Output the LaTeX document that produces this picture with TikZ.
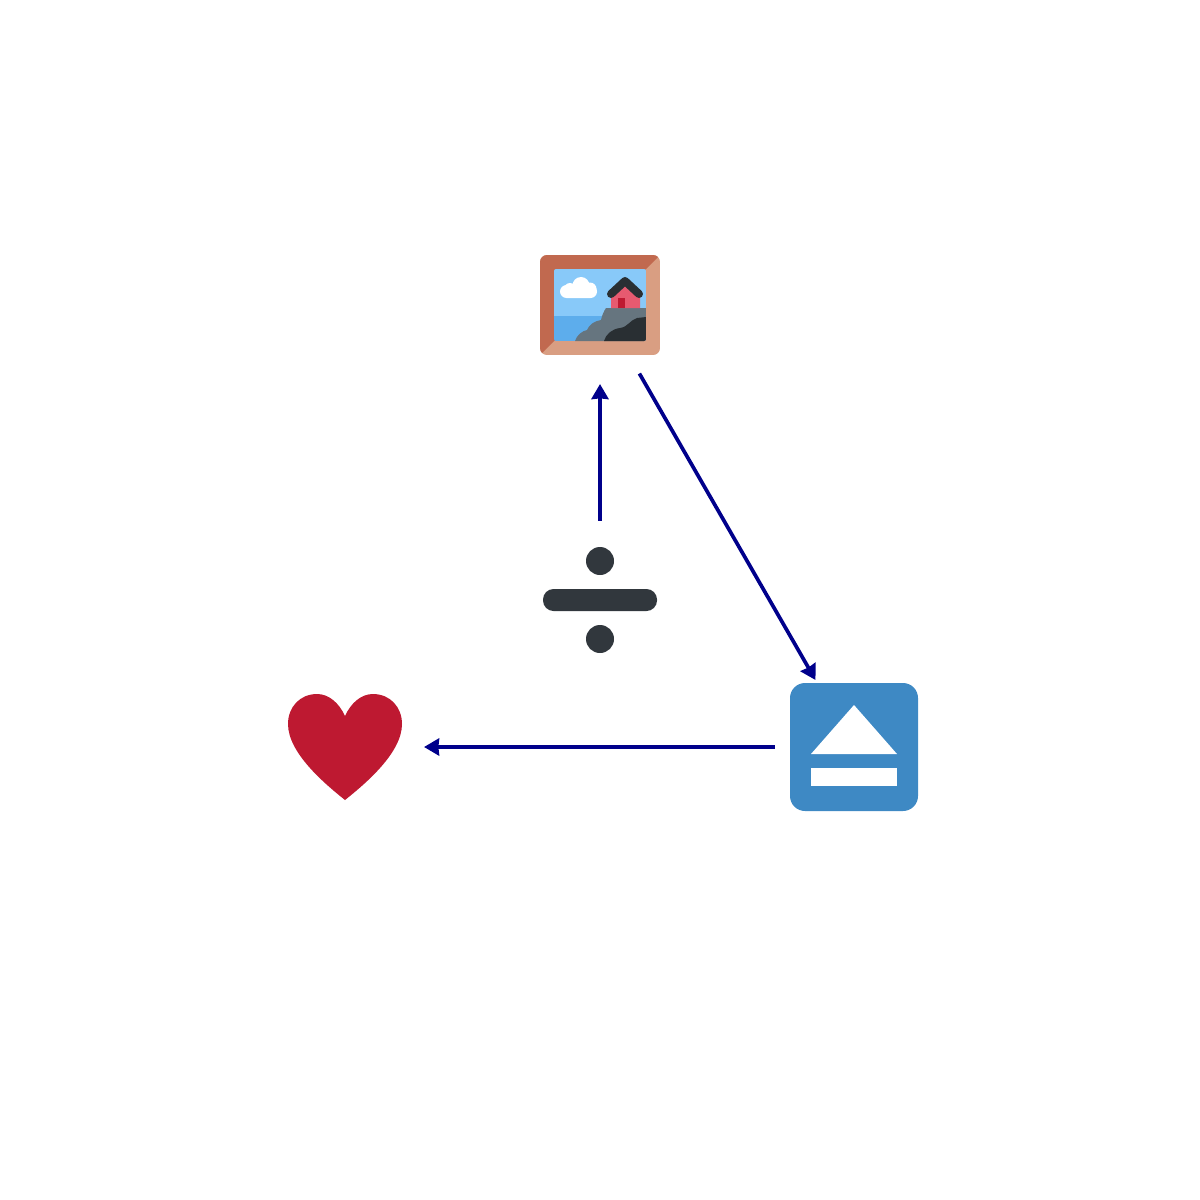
\documentclass[tikz,border=0pt]{standalone}
\usepackage{tikz}
\usetikzlibrary{arrows.meta}

\definecolor{woodDark}{HTML}{C1694F}
\definecolor{woodLight}{HTML}{D99E82}
\definecolor{skyBlue}{HTML}{88C9F9}
\definecolor{seaBlue}{HTML}{5DADEC}
\definecolor{rockGrey}{HTML}{66757F}
\definecolor{rockDark}{HTML}{292F33}
\definecolor{housePink}{HTML}{E75A70}
\definecolor{heartRed}{HTML}{BE1931}
\definecolor{ejectBlue}{HTML}{3E89C4}
\definecolor{divideGrey}{HTML}{31373D}
\definecolor{arrowBlue}{HTML}{00008B}

\tikzset{
  icon/.style={circle, minimum size=1.58cm, inner sep=0pt, outer sep=0pt},
  link/.style={draw=arrowBlue, line width=1.05pt, -{Stealth[length=0.15cm, width=0.17cm, inset=0.2pt]}}
}

\begin{document}
\begin{tikzpicture}[x=0.01cm, y=-0.01cm]
\useasboundingbox (0,0) rectangle (1200,1200);

\node[icon] (frame) at (600,305) {};
\node[icon] (divide) at (600,600) {};
\node[icon] (eject) at (854,747) {};
\node[icon] (heart) at (345,747) {};

% framed picture
\begin{scope}
\clip[rounded corners=0.07cm] (540,255) rectangle (660,355);
\fill[woodLight] (540,255) rectangle (660,355);
\fill[woodDark] (540,355) -- (554,341) -- (646,269) -- (660,255) -- (540,255) -- cycle;
\end{scope}
\begin{scope}
\clip[rounded corners=0.02cm] (554,269) rectangle (646,341);
\fill[skyBlue] (554,269) rectangle (646,316);
\fill[seaBlue] (554,316) rectangle (646,341);
\fill[rockGrey] (575,341) .. controls (577,335) and (582,331) .. (587,330)
  .. controls (589,325) and (594,321) .. (601,320)
  .. controls (602,315) and (604,311) .. (606,308) -- (646,308) -- (646,341) -- cycle;
\fill[rockDark] (604,341) .. controls (606,334) and (612,329) .. (620,328)
  .. controls (628,327) and (630,320) .. (637,318) -- (646,317) -- (646,341) -- cycle;
\end{scope}
\fill[housePink] (611,308) -- (611,295) -- (625,282) -- (640,295) -- (640,308) -- cycle;
\fill[heartRed] (618,298) rectangle (625,308);
\draw[rockDark, line width=0.08cm, line cap=round, line join=round] (611,294) -- (625,281) -- (639,294);
\fill[white, rounded corners=0.065cm] (560,285) rectangle (597,298);
\fill[white] (581,285.5) circle[radius=0.085cm];
\fill[white] (570,289) circle[radius=0.06cm];
\fill[white] (590,289) circle[radius=0.065cm];

% division sign
\fill[divideGrey] (600,561) circle[radius=0.14cm];
\fill[divideGrey] (600,639) circle[radius=0.14cm];
\fill[divideGrey, rounded corners=0.105cm] (543,589) rectangle (657,611);

% eject button
\fill[ejectBlue, rounded corners=0.15cm] (790,683) rectangle (918,811);
\fill[white] (854,705) -- (897,754) -- (811,754) -- cycle;
\fill[white] (811,768) rectangle (897,786);

% heart
\fill[heartRed] (345,800) .. controls (365,784) and (402,753) .. (402,724)
  .. controls (402,707) and (390,694) .. (373,694)
  .. controls (361,694) and (351,703) .. (345,716)
  .. controls (339,703) and (329,694) .. (317,694)
  .. controls (300,694) and (288,707) .. (288,724)
  .. controls (288,753) and (325,784) .. (345,800) -- cycle;

\draw[link] (divide) -- (frame);
\draw[link, shorten >=-0.5pt] (frame) -- (eject);
\draw[link] (eject) -- (heart);
\end{tikzpicture}
\end{document}
